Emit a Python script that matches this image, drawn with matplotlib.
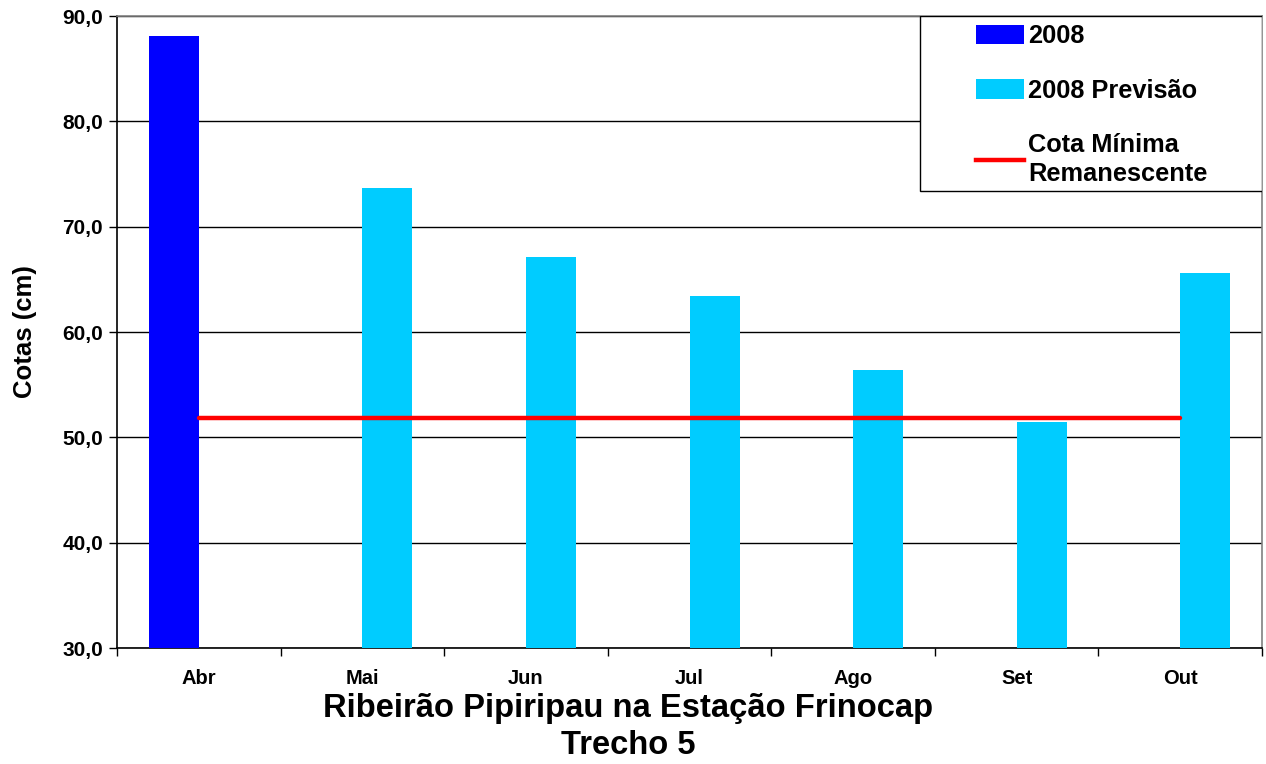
import numpy as np
import matplotlib
matplotlib.use("Agg")
import matplotlib.pyplot as plt
from matplotlib.patches import Patch, Rectangle
from matplotlib.lines import Line2D

# data
months = ["Abr", "Mai", "Jun", "Jul", "Ago", "Set", "Out"]
obs_2008 = [88.1, np.nan, np.nan, np.nan, np.nan, np.nan, np.nan]
prev_2008 = [np.nan, 73.7, 67.1, 63.4, 56.4, 51.5, 65.6]
cota_minima = [51.8] * 7
yticks = [30, 40, 50, 60, 70, 80, 90]

plt.rcParams["font.family"] = ["Liberation Sans", "DejaVu Sans"]
plt.rcParams["font.weight"] = "bold"

fig = plt.figure(figsize=(12.66, 7.64), dpi=100)
ax = fig.add_axes([0.0924, 0.1518, 0.9045, 0.8272])

x = np.arange(len(months))
w = 0.306
ax.bar(x, obs_2008, width=-w, align="edge", color="#0000FF", zorder=3)
ax.bar(x, prev_2008, width=w, align="edge", color="#00CCFF", zorder=3)
ax.plot(x, cota_minima, color="#FF0000", lw=3.2, solid_capstyle="round", zorder=4)

ax.set_xlim(-0.5, len(months) - 0.5)
ax.set_ylim(30, 90)
ax.set_yticks(yticks)
ax.set_yticklabels([f"{v:.1f}".replace(".", ",") for v in yticks], fontsize=15, fontweight="bold")
ax.set_xticks(x)
ax.set_xticklabels(months, fontsize=14.5, fontweight="bold")
ax.set_xticks(np.arange(-0.5, len(months)), minor=True)
ax.tick_params(axis="x", which="major", length=0, pad=15)
ax.tick_params(axis="x", which="minor", length=6, width=1, direction="out")
ax.tick_params(axis="y", length=6, width=1, pad=4)

ax.grid(axis="y", color="black", lw=1, zorder=0)
ax.spines["left"].set_color("black")
ax.spines["bottom"].set_color("black")
ax.spines["top"].set_color("#808080")
ax.spines["right"].set_color("#808080")
for s in ax.spines.values():
    s.set_linewidth(1.2)

ax.set_ylabel("Cotas (cm)", fontsize=18.5, fontweight="bold", labelpad=18)

# legend box
ax.add_patch(Rectangle((0.701, 0.723), 0.299, 0.277, transform=ax.transAxes,
                       facecolor="white", edgecolor="black", lw=1, zorder=5))
handles = [Patch(facecolor="#0000FF"), Patch(facecolor="#00CCFF"),
           Line2D([0], [0], color="#FF0000", lw=3.2)]
labels = ["2008", "2008 Previsão", "Cota Mínima\nRemanescente"]
leg = ax.legend(handles, labels, loc="upper left", bbox_to_anchor=(0.75, 0.987),
                frameon=False, fontsize=18.3, handlelength=1.9, handleheight=0.8,
                handletextpad=0.16, labelspacing=1.2, borderpad=0, borderaxespad=0)
leg.set_zorder(6)
for t in leg.get_texts():
    t.set_fontweight("bold")
    t.set_linespacing(1.25)

fig.text(0.496, 0.072, "Ribeirão Pipiripau na Estação Frinocap", ha="center",
         va="center", fontsize=23.6, fontweight="bold")
fig.text(0.496, 0.024, "Trecho 5", ha="center", va="center", fontsize=23.6, fontweight="bold")

fig.savefig("out.png", dpi=100)
